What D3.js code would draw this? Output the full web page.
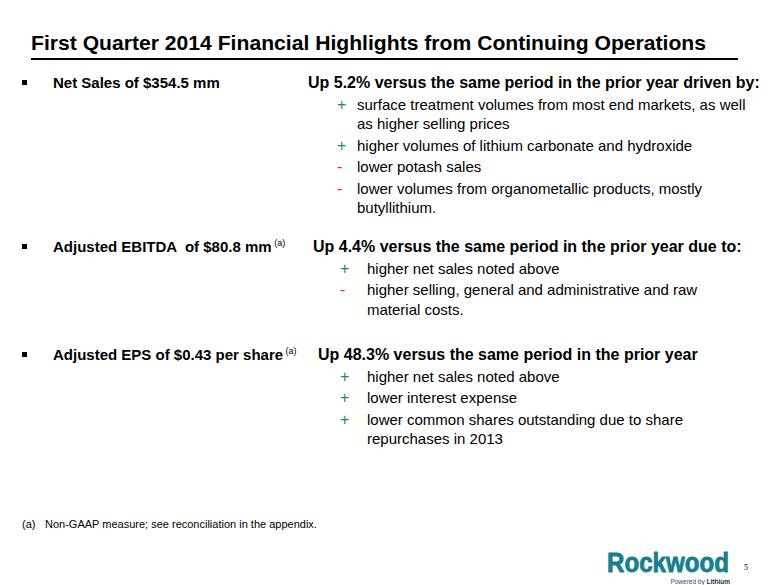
<!DOCTYPE html>
<html>
<head>
<meta charset="utf-8">
<script src="https://cdn.jsdelivr.net/npm/d3@7/dist/d3.min.js"></script>
<style>
  html, body { margin: 0; padding: 0; background: #ffffff; }
  svg { display: block; }
</style>
</head>
<body>
<script>
// ---------- content ----------
const title = "First Quarter 2014 Financial Highlights from Continuing Operations";
const metrics = ["Net Sales of $354.5 mm", "Adjusted EBITDA  of $80.8 mm", "Adjusted EPS of $0.43 per share"];
const metricNotes = ["", "(a)", "(a)"];
const summaries = [
  "Up 5.2% versus the same period in the prior year driven by:",
  "Up 4.4% versus the same period in the prior year due to:",
  "Up 48.3% versus the same period in the prior year"
];
const driverSigns = [
  ["+", "+", "-", "-"],
  ["+", "-"],
  ["+", "+", "+"]
];
const driverLines = [
  [["surface treatment volumes from most end markets, as well", "as higher selling prices"],
   ["higher volumes of lithium carbonate and hydroxide"],
   ["lower potash sales"],
   ["lower volumes from organometallic products, mostly", "butyllithium."]],
  [["higher net sales noted above"],
   ["higher selling, general and administrative and raw", "material costs."]],
  [["higher net sales noted above"],
   ["lower interest expense"],
   ["lower common shares outstanding due to share", "repurchases in 2013"]]
];
const footnoteMark = "(a)";
const footnoteText = "Non-GAAP measure; see reconciliation in the appendix.";
const logoText = "Rockwood";
const logoTagRegular = "Powered by ";
const logoTagBold = "Lithium";
const pageNumber = "5";

// ---------- layout ----------
const W = 780, H = 585;
const FONT = "'Liberation Sans', Arial, Helvetica, sans-serif";
const signColor = { "+": "#1e8a68", "-": "#ff1a1a" };
const blockLayout = [
  { y: 88,  sumX: 308, signX: 337, textX: 357 },
  { y: 252, sumX: 313, signX: 340, textX: 367 },
  { y: 360, sumX: 318, signX: 340, textX: 367 }
];
const itemGap = 21.5, wrapGap = 19.5;

const svg = d3.select("body").append("svg")
  .attr("width", W).attr("height", H)
  .attr("viewBox", `0 0 ${W} ${H}`);

// title
svg.append("text")
  .attr("x", 31).attr("y", 50)
  .attr("font-family", FONT).attr("font-weight", "bold").attr("font-size", 21)
  .attr("fill", "#000")
  .attr("textLength", 675).attr("lengthAdjust", "spacingAndGlyphs")
  .text(title);
svg.append("line")
  .attr("x1", 31).attr("x2", 738).attr("y1", 59).attr("y2", 59)
  .attr("stroke", "#000").attr("stroke-width", 2.2);

// blocks
metrics.forEach((m, i) => {
  const L = blockLayout[i];
  const g = svg.append("g").attr("font-family", FONT);

  g.append("rect").attr("x", 22).attr("y", L.y - 8).attr("width", 5).attr("height", 5).attr("fill", "#000");

  const mt = g.append("text").attr("x", 53).attr("y", L.y)
    .attr("font-weight", "bold").attr("font-size", 15).attr("fill", "#000")
    .style("white-space", "pre");
  mt.append("tspan").text(m);
  if (metricNotes[i]) {
    mt.append("tspan").attr("font-size", 9).attr("font-weight", "normal").attr("dy", -6).text("\u00a0" + metricNotes[i]);
  }

  g.append("text").attr("x", L.sumX).attr("y", L.y)
    .attr("font-weight", "bold").attr("font-size", 16).attr("fill", "#000")
    .text(summaries[i]);

  let y = L.y;
  driverSigns[i].forEach((s, j) => {
    y += itemGap;
    g.append("text").attr("x", L.signX).attr("y", y)
      .attr("font-size", 16).attr("fill", signColor[s])
      .text(s);
    driverLines[i][j].forEach((line, k) => {
      if (k > 0) y += wrapGap;
      g.append("text").attr("x", L.textX).attr("y", y)
        .attr("font-size", 15).attr("fill", "#000")
        .text(line);
    });
  });
});

// footnote
svg.append("text").attr("x", 22).attr("y", 528)
  .attr("font-family", FONT).attr("font-size", 11).attr("fill", "#000").text(footnoteMark);
svg.append("text").attr("x", 45).attr("y", 528)
  .attr("font-family", FONT).attr("font-size", 11).attr("fill", "#000").text(footnoteText);

// logo (horizontally condensed via transform so its box matches what is drawn)
const logoColor = "#17808c";
const logoG = svg.append("g");
const logo = logoG.append("text").attr("x", 0).attr("y", 0)
  .attr("font-family", FONT)
  .attr("font-weight", "bold").attr("font-size", 28).attr("fill", logoColor)
  .attr("stroke", logoColor).attr("stroke-width", 0.9).attr("stroke-linejoin", "round")
  .text(logoText);
const natural = logo.node().getComputedTextLength();
logoG.attr("transform", `translate(607,572) scale(${122 / natural},1)`);

const tag = svg.append("text").attr("x", 730).attr("y", 584)
  .attr("text-anchor", "end")
  .attr("font-family", FONT)
  .attr("font-size", 6.5).attr("fill", "#1a5a66").style("white-space", "pre");
tag.append("tspan").text(logoTagRegular);
tag.append("tspan").attr("font-weight", "bold").attr("fill", "#0d3e48").text(logoTagBold);

svg.append("text").attr("x", 744).attr("y", 570)
  .attr("font-family", "'Liberation Serif', 'Times New Roman', serif")
  .attr("font-size", 8).attr("fill", "#000").text(pageNumber);
</script>
</body>
</html>
